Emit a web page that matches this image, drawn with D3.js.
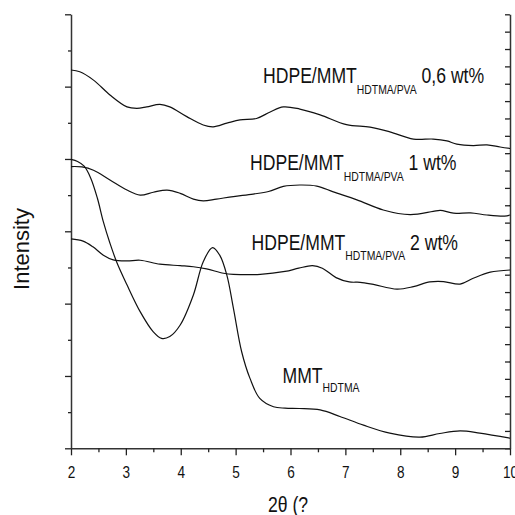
<!DOCTYPE html>
<html>
<head>
<meta charset="utf-8">
<script src="https://cdn.jsdelivr.net/npm/d3@7"></script>
<style>
body { margin: 0; background: #fff; }
svg { display: block; }
</style>
</head>
<body>
<svg id="chart" width="515" height="515"></svg>
<script>
// 2-theta values and (offset) intensities
var theta06 = [2.0, 2.16, 2.41, 2.71, 3.02, 3.20, 3.38, 3.62, 3.80, 4.11, 4.41, 4.59, 4.84, 5.08, 5.38, 5.63, 5.87, 6.17, 6.54, 7.02, 7.45, 7.81, 8.24, 8.60, 8.85, 9.03, 9.33, 9.58, 9.82, 10.0];
var int06   = [10.46, 10.41, 10.18, 9.77, 9.44, 9.40, 9.44, 9.51, 9.44, 9.17, 8.94, 8.89, 8.99, 9.08, 9.12, 9.30, 9.44, 9.38, 9.22, 8.95, 8.88, 8.75, 8.55, 8.55, 8.50, 8.41, 8.37, 8.39, 8.33, 8.29];

var theta1 = [2.0, 2.2, 2.41, 2.71, 3.02, 3.26, 3.50, 3.75, 3.99, 4.23, 4.41, 4.65, 4.96, 5.32, 5.60, 5.87, 6.17, 6.48, 6.78, 7.21, 7.69, 8.18, 8.60, 8.73, 8.97, 9.28, 9.58, 9.90, 10.0];
var int1   = [7.79, 7.78, 7.69, 7.42, 7.14, 7.00, 7.08, 7.14, 7.05, 6.89, 6.84, 6.89, 6.96, 7.03, 7.10, 7.24, 7.28, 7.25, 7.09, 6.87, 6.59, 6.46, 6.55, 6.58, 6.50, 6.51, 6.45, 6.42, 6.45];

var theta2 = [2.0, 2.22, 2.40, 2.59, 2.77, 3.02, 3.26, 3.62, 3.99, 4.23, 4.47, 4.78, 4.96, 5.45, 5.90, 6.15, 6.40, 6.58, 6.83, 7.07, 7.27, 7.51, 7.94, 8.24, 8.54, 8.79, 9.09, 9.33, 9.64, 10.0];
var int2   = [5.79, 5.73, 5.57, 5.34, 5.21, 5.18, 5.20, 5.09, 5.05, 5.02, 4.96, 4.84, 4.81, 4.81, 4.89, 4.98, 5.05, 4.98, 4.72, 4.60, 4.59, 4.53, 4.40, 4.47, 4.60, 4.61, 4.54, 4.70, 4.87, 4.93];

var thetaMMT = [2.0, 2.12, 2.24, 2.36, 2.48, 2.59, 2.71, 2.83, 3.02, 3.26, 3.50, 3.65, 3.80, 3.99, 4.23, 4.41, 4.58, 4.71, 4.84, 4.96, 5.11, 5.26, 5.44, 5.69, 5.90, 6.16, 6.54, 6.90, 7.33, 7.81, 8.36, 8.72, 9.09, 9.45, 10.0];
var intMMT   = [7.99, 7.93, 7.80, 7.47, 6.92, 6.26, 5.67, 5.16, 4.52, 3.78, 3.22, 3.04, 3.09, 3.41, 4.24, 5.16, 5.55, 5.34, 4.79, 3.87, 2.67, 1.94, 1.38, 1.15, 1.11, 1.10, 1.06, 0.88, 0.64, 0.42, 0.31, 0.41, 0.48, 0.42, 0.28];

var xTicks = [2, 3, 4, 5, 6, 7, 8, 9, 10];

// no narrow face is installed, so text is squeezed horizontally instead
var font = '"Liberation Sans", Arial, sans-serif';
var squeeze = 0.8;

var svg = d3.select("#chart");
var x = d3.scaleLinear().domain([2, 10]).range([71, 510]);
var y = d3.scaleLinear().domain([0, 12]).range([448.3, 14.3]);

// left axis: no labels, long ticks at even values
var left = svg.append("g").attr("transform", "translate(71,0)")
    .call(d3.axisLeft(y).tickValues(d3.range(0, 13, 1)).tickFormat("").tickSizeOuter(0));
left.selectAll(".tick line").attr("x2", function(d) { return d % 2 === 0 ? -6 : -3; });

// right axis, ticks pointing inward
svg.append("g").attr("transform", "translate(510,0)")
    .call(d3.axisLeft(y).tickValues(d3.range(0, 26).map(function(i) { return i * 12 / 25; }))
        .tickFormat("").tickSize(5).tickSizeOuter(0));

// bottom axis
var bottom = svg.append("g").attr("transform", "translate(0,448.3)")
    .call(d3.axisBottom(x).tickValues(d3.range(2, 10.01, 0.5))
        .tickFormat(function(d) { return xTicks.indexOf(d) >= 0 ? d : ""; })
        .tickSizeOuter(0));
bottom.selectAll(".tick line").attr("y2", function(d) { return Number.isInteger(d) ? 7 : 4; });
bottom.selectAll(".tick text").attr("y", 0).attr("dy", 0)
    .attr("transform", "translate(0,29.4) scale(" + squeeze + ",1)")
    .style("font-family", font).style("font-size", "17px").attr("fill", "#111");

svg.selectAll(".domain").attr("stroke", "#333").attr("stroke-width", 1.5);
svg.selectAll(".tick line").attr("stroke", "#222").attr("stroke-width", 1.3);

var line = d3.line()
    .x(function(d) { return x(d[0]); })
    .y(function(d) { return y(d[1]); })
    .curve(d3.curveCatmullRom.alpha(0.5));

var series = [[theta06, int06], [theta1, int1], [theta2, int2], [thetaMMT, intMMT]];
series.forEach(function(s) {
    svg.append("path")
        .datum(d3.zip(s[0], s[1]))
        .attr("d", line)
        .attr("fill", "none")
        .attr("stroke", "#111")
        .attr("stroke-width", 1.2);
});

function label(px, py, main, sub, tail, subDy) {
    var t = svg.append("text")
        .attr("transform", "translate(" + px + "," + py + ") scale(" + squeeze + ",1)")
        .style("font-family", font).style("font-size", "22px").attr("fill", "#111");
    t.append("tspan").text(main);
    t.append("tspan").attr("dy", subDy).style("font-size", "13px").text(sub);
    if (tail) t.append("tspan").attr("dy", -subDy).text(" " + tail);
}
label(263, 82.7, "HDPE/MMT", "HDTMA/PVA", "0,6 wt%", 11.5);
label(250, 170, "HDPE/MMT", "HDTMA/PVA", "1 wt%", 10.7);
label(251.5, 250, "HDPE/MMT", "HDTMA/PVA", "2 wt%", 9.5);
label(282.5, 383.3, "MMT", "HDTMA", null, 8.4);

// axis titles
svg.append("text")
    .attr("transform", "translate(288,511.5) scale(" + squeeze + ",1)").attr("text-anchor", "middle")
    .style("font-family", font).style("font-size", "22px").attr("fill", "#111")
    .text("2\u03b8 (?");

svg.append("text")
    .attr("transform", "translate(29,249) rotate(-90)").attr("text-anchor", "middle")
    .style("font-family", font).style("font-size", "22px").attr("fill", "#111")
    .text("Intensity");
</script>
</body>
</html>
